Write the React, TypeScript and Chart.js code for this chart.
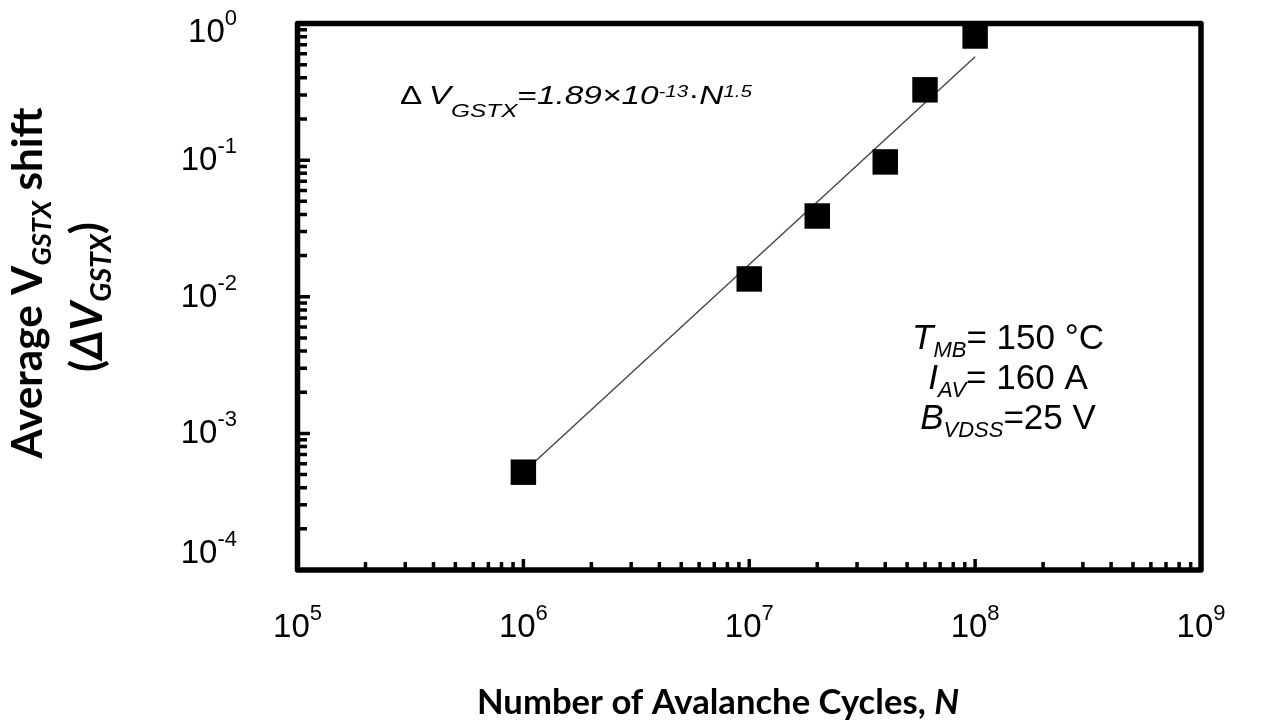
import React, { useEffect, useRef } from "react";
import { Chart, registerables } from "chart.js";

Chart.register(...registerables);

// ---------- data ----------
const cyclesN = [1e6, 1e7, 2e7, 4e7, 6e7, 1e8];
const shiftV = [5.2e-4, 0.0135, 0.039, 0.097, 0.327, 0.81];
const fitN = [1e6, 1e8];
const fitV = [5.2e-4, 0.57];
const xExponents = [5, 6, 7, 8, 9];
const yExponents = [0, -1, -2, -3, -4];
const minorMultipliers = [2, 3, 4, 5, 6, 7, 8, 9];
const conditionLines = [
  ["T", "MB", "= 150 °C"],
  ["I", "AV", "= 160 A"],
  ["B", "VDSS", "=25 V"],
];

type Seg = { t: string; size: number; dy?: number; italic?: boolean; bold?: boolean };

const ARIAL = "'Liberation Sans', Arial, sans-serif";
const TITLE = "Lato, 'Open Sans', sans-serif";

function segFont(s: Seg, fam: string) {
  return `${s.italic ? "italic " : ""}${s.bold ? "bold " : ""}${s.size}px ${fam}`;
}
function measureSegs(ctx: CanvasRenderingContext2D, segs: Seg[], fam: string) {
  let w = 0;
  for (const s of segs) {
    ctx.font = segFont(s, fam);
    w += ctx.measureText(s.t).width;
  }
  return w;
}
function drawSegsRaw(ctx: CanvasRenderingContext2D, segs: Seg[], fam: string) {
  let cx = 0;
  ctx.textAlign = "left";
  ctx.textBaseline = "alphabetic";
  for (const s of segs) {
    ctx.font = segFont(s, fam);
    ctx.fillText(s.t, cx, s.dy || 0);
    cx += ctx.measureText(s.t).width;
  }
}
function drawSegs(
  ctx: CanvasRenderingContext2D,
  segs: Seg[],
  fam: string,
  x: number,
  y: number,
  align: "left" | "center" | "right",
  sx = 1,
  sy = 1
) {
  const w = measureSegs(ctx, segs, fam) * sx;
  const left = align === "left" ? x : align === "center" ? x - w / 2 : x - w;
  ctx.save();
  ctx.translate(left, y);
  ctx.scale(sx, sy);
  drawSegsRaw(ctx, segs, fam);
  ctx.restore();
}
function drawSegsFit(
  ctx: CanvasRenderingContext2D,
  segs: Seg[],
  fam: string,
  centerX: number,
  baseY: number,
  targetW: number
) {
  const nat = measureSegs(ctx, segs, fam);
  const f = targetW / nat;
  drawSegs(ctx, segs, fam, centerX, baseY, "center", f, f);
}

function powLabel(exp: number): Seg[] {
  return [
    { t: "10", size: 33 },
    { t: String(exp), size: 22, dy: -17 },
  ];
}

const framePlugin = {
  id: "frame",
  afterDraw(chart: any) {
    const ctx: CanvasRenderingContext2D = chart.ctx;
    const xs = chart.scales.x;
    const ys = chart.scales.y;
    const L = xs.left;
    const R = xs.right;
    const T = ys.top;
    const B = ys.bottom;
    ctx.save();
    ctx.fillStyle = "#000";
    ctx.strokeStyle = "#000";

    // inward ticks
    ctx.lineCap = "butt";
    ctx.lineWidth = 3.5;
    ctx.beginPath();
    for (const e of yExponents) {
      const py = ys.getPixelForValue(Math.pow(10, e));
      ctx.moveTo(L, py);
      ctx.lineTo(L + 12.5, py);
      if (e < 0) {
        for (const m of minorMultipliers) {
          const p = ys.getPixelForValue(m * Math.pow(10, e));
          ctx.moveTo(L, p);
          ctx.lineTo(L + 9.5, p);
        }
      }
    }
    for (const e of xExponents) {
      const px = xs.getPixelForValue(Math.pow(10, e));
      ctx.moveTo(px, B);
      ctx.lineTo(px, B - 11);
      if (e < 9) {
        for (const m of minorMultipliers) {
          const p = xs.getPixelForValue(m * Math.pow(10, e));
          ctx.moveTo(p, B);
          ctx.lineTo(p, B - 8);
        }
      }
    }
    ctx.stroke();

    // frame
    ctx.lineWidth = 5.5;
    ctx.lineJoin = "round";
    ctx.strokeRect(L, T, R - L, B - T);

    // x tick labels
    for (const e of xExponents) {
      const px = xs.getPixelForValue(Math.pow(10, e));
      drawSegs(ctx, powLabel(e), ARIAL, px, 637, "center");
    }
    // y tick labels
    for (const e of yExponents) {
      const py = ys.getPixelForValue(Math.pow(10, e));
      const base = Math.min(Math.max(py + 10, T + 18), B - 7);
      drawSegs(ctx, powLabel(e), ARIAL, 237, base, "right");
    }

    // formula annotation
    const formula: Seg[] = [
      { t: "Δ", size: 26 },
      { t: " ", size: 18 },
      { t: "V", size: 26, italic: true },
      { t: "GSTX", size: 19, italic: true, dy: 13 },
      { t: "=", size: 26 },
      { t: "1.89×10", size: 26, italic: true },
      { t: "-13", size: 16, italic: true, dy: -7 },
      { t: "·", size: 26 },
      { t: "N", size: 26, italic: true },
      { t: "1.5", size: 16, italic: true, dy: -7 },
    ];
    const fw = measureSegs(ctx, formula, ARIAL);
    drawSegs(ctx, formula, ARIAL, 400, 104, "left", 352 / fw, 1);

    // conditions
    const baselines = [349, 389, 429];
    conditionLines.forEach((ln, i) => {
      const segs: Seg[] = [
        { t: ln[0], size: 35, italic: true },
        { t: ln[1], size: 22, italic: true, dy: 8 },
        { t: ln[2], size: 35 },
      ];
      drawSegs(ctx, segs, ARIAL, 1008, baselines[i], "center");
    });

    // x-axis title
    const xTitle: Seg[] = [
      { t: "Number of Avalanche Cycles, ", size: 38, bold: true },
      { t: "N", size: 38, bold: true, italic: true },
    ];
    drawSegsFit(ctx, xTitle, TITLE, 718, 714, 482);

    // y-axis title (two rotated lines)
    const yTitle1: Seg[] = [
      { t: "Average V", size: 42, bold: true },
      { t: "GSTX", size: 27, bold: true, italic: true, dy: 9 },
      { t: " shift", size: 42, bold: true },
    ];
    const yTitle2: Seg[] = [
      { t: "(", size: 42, bold: true },
      { t: "ΔV", size: 42, bold: true, italic: true },
      { t: "GSTX", size: 27, bold: true, italic: true, dy: 9 },
      { t: ")", size: 42, bold: true },
    ];
    ctx.save();
    ctx.translate(42, 283);
    ctx.rotate(-Math.PI / 2);
    drawSegsFit(ctx, yTitle1, TITLE, 0, 0, 351);
    ctx.restore();
    ctx.save();
    ctx.translate(102, 297);
    ctx.rotate(-Math.PI / 2);
    drawSegsFit(ctx, yTitle2, TITLE, 0, 0, 150);
    ctx.restore();

    ctx.restore();
  },
};

export default function App() {
  const ref = useRef<HTMLCanvasElement | null>(null);
  useEffect(() => {
    if (!ref.current) return;
    const chart = new Chart(ref.current, {
      type: "scatter",
      data: {
        datasets: [
          {
            label: "Measured",
            data: cyclesN.map((n, i) => ({ x: n, y: shiftV[i] })),
            pointStyle: "rect",
            pointRadius: 18,
            pointHoverRadius: 18,
            backgroundColor: "#000",
            borderColor: "#000",
            borderWidth: 0,
            showLine: false,
            clip: false,
          } as any,
          {
            label: "Fit",
            data: fitN.map((n, i) => ({ x: n, y: fitV[i] })),
            showLine: true,
            pointRadius: 0,
            borderColor: "#444",
            borderWidth: 1.4,
            clip: false,
          } as any,
        ],
      },
      options: {
        animation: false,
        responsive: false,
        events: [],
        layout: { padding: { left: 297.5, top: 23.5, right: 70, bottom: 156 } },
        plugins: {
          legend: { display: false },
          tooltip: { enabled: false },
          title: { display: false },
        },
        scales: {
          x: { type: "logarithmic", min: 1e5, max: 1e9, display: false },
          y: { type: "logarithmic", min: 1e-4, max: 1, display: false },
        },
      },
      plugins: [framePlugin],
    });
    return () => chart.destroy();
  }, []);
  return (
    <div
      style={{
        position: "fixed",
        left: 0,
        top: 0,
        width: 1271,
        height: 726,
        background: "#fff",
      }}
    >
      <canvas ref={ref} width={1271} height={726} style={{ display: "block" }} />
    </div>
  );
}
